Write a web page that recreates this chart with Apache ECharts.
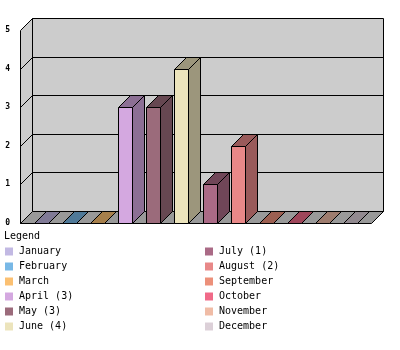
<!DOCTYPE html>
<html>
<head>
<meta charset="utf-8">
<script src="https://cdn.jsdelivr.net/npm/echarts@6/dist/echarts.min.js"></script>
<style>
html,body{margin:0;padding:0;background:#fff;}
#chart{width:400px;height:350px;}
</style>
</head>
<body>
<div id="chart"></div>
<script>
const months = ['January','February','March','April','May','June','July','August','September','October','November','December'];
const counts = [0,0,0,3,3,4,1,2,0,0,0,0];
const yTicks = [0,1,2,3,4,5];
const palette = ['#c2b9e3','#78b8e6','#fbc072','#d4a8e0','#9b6b7b','#ece4bc','#aa6a86','#e88888','#ec907a','#f06a88','#f0bca6','#dcd0d8'];

const DX = 12, DY = -12, HALF = 7;
const FONT = '"DejaVu Sans Mono", "Liberation Mono", monospace';

function darker(hex, f) {
  const n = parseInt(hex.slice(1), 16);
  const r = Math.round(((n >> 16) & 255) * f), g = Math.round(((n >> 8) & 255) * f), b = Math.round((n & 255) * f);
  return 'rgb(' + r + ',' + g + ',' + b + ')';
}
const px = v => Math.round(v) + 0.5;
const label = i => months[i] + (counts[i] > 0 ? ' (' + counts[i] + ')' : '');

const chart = echarts.init(document.getElementById('chart'), null, {renderer: 'canvas'});

function renderBackground(params, api) {
  const cs = params.coordSys;
  const x0 = px(cs.x - HALF), x1 = px(cs.x + cs.width + HALF);
  const yTop = px(api.coord([0, yTicks[yTicks.length - 1]])[1]);
  const yBot = px(api.coord([0, 0])[1]);
  const st = {stroke: '#000', lineWidth: 1};
  const children = [];
  children.push({type: 'rect', shape: {x: x0 + DX, y: yTop + DY, width: x1 - x0, height: yBot - yTop},
    style: Object.assign({fill: '#cccccc'}, st)});
  children.push({type: 'polygon', shape: {points: [[x0, yTop], [x0 + DX, yTop + DY], [x0 + DX, yBot + DY], [x0, yBot]]},
    style: Object.assign({fill: '#cccccc'}, st)});
  children.push({type: 'polygon', shape: {points: [[x0, yBot], [x1, yBot], [x1 + DX, yBot + DY], [x0 + DX, yBot + DY]]},
    style: Object.assign({fill: '#999999'}, st)});
  yTicks.forEach(t => {
    if (t === 0 || t === yTicks[yTicks.length - 1]) return;
    const y = px(api.coord([0, t])[1]);
    children.push({type: 'line', shape: {x1: x0, y1: y, x2: x0 + DX, y2: y + DY}, style: st});
    children.push({type: 'line', shape: {x1: x0 + DX, y1: y + DY, x2: x1 + DX, y2: y + DY}, style: st});
  });
  return {type: 'group', children: children};
}

function makeBarRenderer(color) {
  const dark = darker(color, 0.66);
  return function (params, api) {
    const c0 = api.coord([api.value(0), 0]);
    const c1 = api.coord([api.value(0), api.value(1)]);
    const xl = px(c0[0] - HALF), xr = px(c0[0] + HALF);
    const yb = px(c0[1]), yt = px(c1[1]);
    const st = {stroke: '#000', lineWidth: 1};
    const children = [];
    if (api.value(1) > 0) {
      children.push({type: 'polygon', shape: {points: [[xr, yt], [xr + DX, yt + DY], [xr + DX, yb + DY], [xr, yb]]},
        style: Object.assign({fill: dark}, st)});
      children.push({type: 'rect', shape: {x: xl, y: yt, width: xr - xl, height: yb - yt},
        style: Object.assign({fill: color}, st)});
    }
    children.push({type: 'polygon', shape: {points: [[xl, yt], [xr, yt], [xr + DX, yt + DY], [xl + DX, yt + DY]]},
      style: Object.assign({fill: dark}, st)});
    return {type: 'group', children: children};
  };
}

const series = [{
  type: 'custom', name: '__bg', silent: true, clip: false, z: 1,
  data: [[0, 0]], renderItem: renderBackground
}];
months.forEach((m, i) => {
  series.push({
    type: 'custom', name: label(i), clip: false, z: 2 + i,
    itemStyle: {color: palette[i]},
    encode: {x: 0, y: 1},
    data: [[i, counts[i]]],
    renderItem: makeBarRenderer(palette[i])
  });
});

const legendBase = {
  orient: 'vertical', icon: 'rect', itemWidth: 8, itemHeight: 8, itemGap: 0, padding: 0,
  selectedMode: false, top: 244,
  textStyle: {fontFamily: FONT, fontSize: 10, color: '#000', lineHeight: 15, padding: [0, 0, 0, 1]}
};

chart.setOption({
  animation: false,
  backgroundColor: '#ffffff',
  title: {text: 'Legend', left: 4, top: 231, padding: 0,
    textStyle: {fontFamily: FONT, fontSize: 10, fontWeight: 'normal', color: '#000'}},
  grid: {left: 27, right: 36, top: 30, bottom: 127},
  xAxis: {type: 'category', data: months, boundaryGap: true,
    axisLine: {show: false}, axisTick: {show: false}, axisLabel: {show: false}, splitLine: {show: false}},
  yAxis: {type: 'value', min: 0, max: 5, interval: 1,
    axisLine: {show: false}, axisTick: {show: false}, splitLine: {show: false},
    axisLabel: {margin: 17, fontFamily: FONT, fontSize: 8, fontWeight: 'bold', color: '#000'}},
  legend: [
    Object.assign({left: 5, data: months.slice(0, 6).map((m, i) => label(i))}, legendBase),
    Object.assign({left: 205, data: months.slice(6).map((m, i) => label(i + 6))}, legendBase)
  ],
  series: series
});
</script>
</body>
</html>
